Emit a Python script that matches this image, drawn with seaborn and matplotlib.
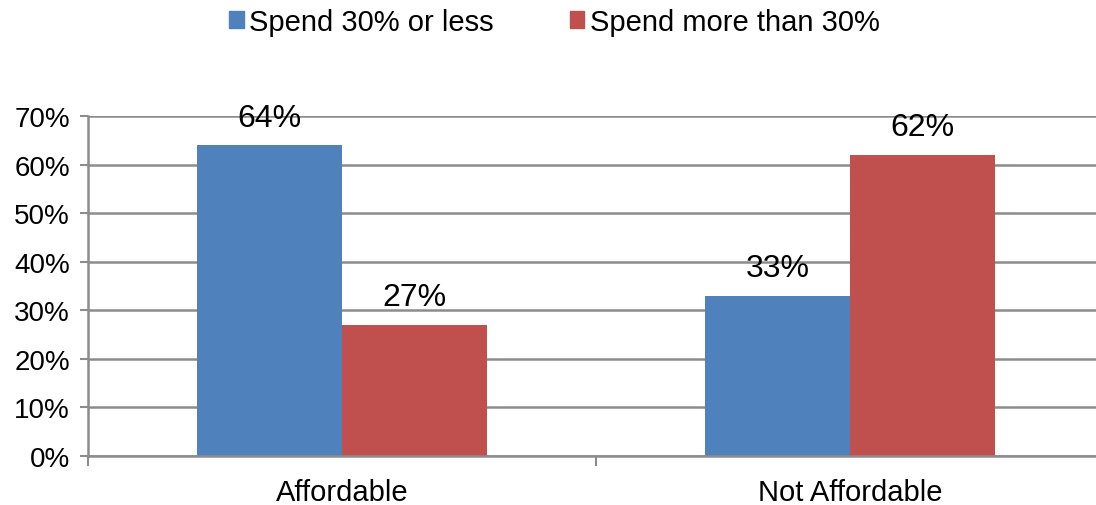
import matplotlib
matplotlib.use("Agg")
import matplotlib.pyplot as plt
import seaborn as sns
import pandas as pd
from matplotlib.ticker import FixedLocator, PercentFormatter

categories = ["Affordable", "Not Affordable"]
series_names = ["Spend 30% or less", "Spend more than 30%"]
spend_30_or_less = [64, 33]
spend_more_than_30 = [27, 62]
y_ticks = [0, 10, 20, 30, 40, 50, 60, 70]

colors = ["#4F81BD", "#C0504D"]

df = pd.DataFrame({
    "category": categories * 2,
    "series": [series_names[0]] * 2 + [series_names[1]] * 2,
    "value": spend_30_or_less + spend_more_than_30,
})

sns.set_theme(style="white")
plt.rcParams["font.family"] = ["Liberation Sans", "DejaVu Sans"]
plt.rcParams["text.color"] = "black"

fig = plt.figure(figsize=(10.96, 5.06), dpi=100)
ax = fig.add_axes([0.0803, 0.0968, 0.927, 0.672])

sns.barplot(data=df, x="category", y="value", hue="series",
            palette=colors, width=0.571, gap=0, saturation=1,
            linewidth=0, ax=ax, legend=False)

ax.set_ylim(0, 70)
ax.set_xlim(-0.5, 1.5)
ax.set_yticks(y_ticks)
ax.yaxis.set_major_formatter(PercentFormatter(decimals=0))
ax.yaxis.grid(True, color="#8C8C8C", linewidth=1.8)
ax.set_axisbelow(True)
ax.set_xlabel("")
ax.set_ylabel("")

for side in ["top", "right"]:
    ax.spines[side].set_visible(False)
for side in ["left", "bottom"]:
    ax.spines[side].set_color("#8C8C8C")
    ax.spines[side].set_linewidth(1.8)

ax.tick_params(axis="y", which="major", left=True, length=6, width=1.5,
               color="#8C8C8C", labelsize=20, pad=7, labelcolor="black")
ax.tick_params(axis="x", which="major", bottom=False, labelsize=21,
               pad=10, labelcolor="black")
ax.xaxis.set_minor_locator(FixedLocator([-0.5, 0.5, 1.5]))
ax.tick_params(axis="x", which="minor", bottom=True, length=7, width=1.5,
               color="#8C8C8C")

for container in ax.containers:
    ax.bar_label(container, labels=[f"{v:.0f}%" for v in container.datavalues],
                 fontsize=23, padding=9, color="black")

handles = [plt.Rectangle((0, 0), 1, 1, color=c) for c in colors]
fig.legend(handles, series_names, loc="center", bbox_to_anchor=(0.506, 0.955),
           ncol=2, frameon=False, fontsize=21, handlelength=0.5,
           handleheight=0.5, handletextpad=0.2, columnspacing=2.6,
           labelcolor="black")

fig.savefig("out.png", dpi=100)
